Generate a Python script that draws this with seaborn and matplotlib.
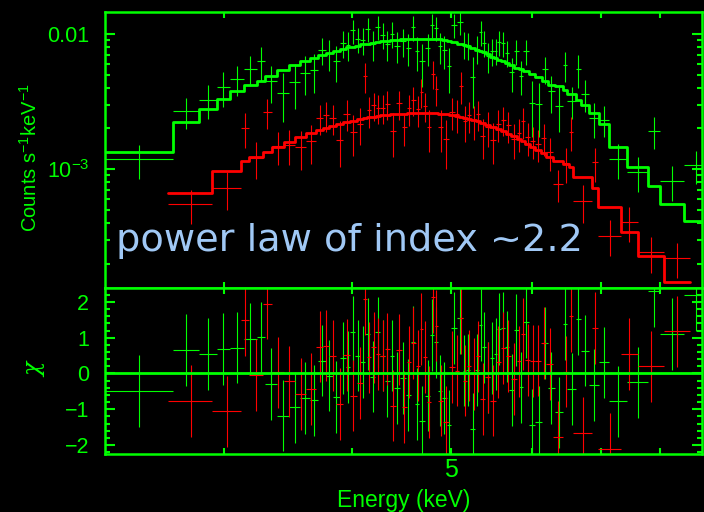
import numpy as np
import matplotlib
matplotlib.use('Agg')
import matplotlib.pyplot as plt
import seaborn as sns
from matplotlib.ticker import FixedLocator, FixedFormatter, NullFormatter, MultipleLocator

# ---- green spectrum (bin edges in keV, model / errors in 1e-3 counts/s/keV, residuals in sigma)
green_edges = [2.28, 2.671, 2.834, 2.949, 3.037, 3.137, 3.225, 3.286, 3.378, 3.471, 3.558, 3.635,
               3.705, 3.767, 3.829, 3.891, 3.942, 3.984, 4.025, 4.073, 4.119, 4.163, 4.215, 4.263,
               4.306, 4.352, 4.397, 4.451, 4.512, 4.563, 4.604, 4.654, 4.713, 4.768, 4.814, 4.850,
               4.894, 4.949, 5.002, 5.068, 5.130, 5.168, 5.219, 5.278, 5.326, 5.364, 5.404, 5.455,
               5.505, 5.549, 5.596, 5.647, 5.701, 5.761, 5.821, 5.883, 5.954, 6.045, 6.141, 6.221,
               6.312, 6.426, 6.493, 6.622, 6.697, 6.823, 6.970, 7.138, 7.433, 7.793, 8.002, 8.452, 8.90]
green_model = [1.343, 2.218, 2.769, 3.283, 3.802, 4.190, 4.486, 4.885, 5.412, 5.923, 6.328, 6.695,
               6.988, 7.293, 7.521, 7.782, 7.956, 8.080, 8.219, 8.403, 8.490, 8.606, 8.725, 8.830,
               8.891, 8.967, 9.044, 9.120, 9.183, 9.230, 9.246, 9.262, 9.262, 9.214, 9.167, 9.120,
               9.028, 8.907, 8.741, 8.389, 8.234, 8.122, 7.877, 7.626, 7.459, 7.305, 7.062, 6.791,
               6.607, 6.451, 6.278, 6.109, 5.903, 5.598, 5.467, 5.284, 5.080, 4.786, 4.463, 4.225,
               4.119, 3.848, 3.575, 3.245, 2.979, 2.612, 2.144, 1.463, 1.029, 0.752, 0.553, 0.412]
green_err = [0.332, 0.70, 0.92, 1.18, 1.16, 1.40, 1.77, 1.37, 1.46, 1.60, 1.65, 1.74,
             1.75, 1.82, 1.88, 1.95, 1.99, 2.18, 1.97, 2.02, 2.21, 2.07, 2.27, 2.12,
             2.13, 2.15, 2.08, 2.10, 2.11, 2.31, 2.13, 2.22, 2.13, 2.30, 2.29, 2.10,
             2.08, 2.14, 2.36, 2.52, 1.89, 1.87, 1.97, 1.83, 2.09, 1.83, 1.69, 1.70,
             1.65, 1.81, 1.76, 1.59, 1.48, 1.57, 1.37, 1.53, 1.37, 1.29, 1.25, 1.14,
             1.07, 1.48, 0.86, 1.48, 0.965, 0.69, 0.59, 0.348, 0.277, 0.508, 0.235, 0.300]
green_chi = [-0.49, 0.65, 0.54, 0.68, 0.72, 0.96, 1.01, -0.30, -1.18, -0.95, -0.69, -0.75,
             0.36, -0.06, -0.66, 0.43, 0.18, 1.17, 0.50, 0.32, 1.10, -0.09, 1.15, 0.50,
             -0.22, 0.50, -0.41, -0.13, -0.60, 0.88, -0.85, -1.34, -0.62, 1.08, 0.87, -0.48,
             -0.69, -1.45, 1.27, 1.55, 0.08, 0.10, -1.55, 0.10, 1.36, 0.73, -0.11, 0.43,
             0.55, 1.25, 1.27, 0.75, -0.46, 1.22, -0.39, 1.43, -1.44, -1.36, 0.85, -0.41,
             -1.09, 1.38, -0.44, 1.52, 0.64, -0.32, 0.31, -0.78, -0.25, 2.30, 1.11, 2.20]

# ---- red spectrum
red_edges = [2.643, 2.918, 3.111, 3.170, 3.269, 3.339, 3.428, 3.518, 3.606, 3.686, 3.747, 3.798,
             3.858, 3.920, 3.980, 4.041, 4.096, 4.137, 4.175, 4.220, 4.263, 4.304, 4.357, 4.417,
             4.472, 4.523, 4.569, 4.616, 4.656, 4.688, 4.731, 4.780, 4.817, 4.855, 4.910, 4.974,
             5.038, 5.090, 5.134, 5.182, 5.233, 5.286, 5.340, 5.397, 5.462, 5.527, 5.590, 5.653,
             5.722, 5.794, 5.854, 5.910, 5.973, 6.045, 6.120, 6.196, 6.294, 6.426, 6.523, 6.582,
             6.861, 6.963, 7.329, 7.610, 8.080, 8.561]
red_model = [0.6675, 0.9665, 1.147, 1.233, 1.343, 1.468, 1.599, 1.726, 1.849, 1.945, 2.030, 2.100,
             2.173, 2.229, 2.287, 2.347, 2.387, 2.416, 2.445, 2.470, 2.500, 2.525, 2.547, 2.569,
             2.582, 2.595, 2.600, 2.604, 2.609, 2.612, 2.609, 2.600, 2.591, 2.577, 2.556, 2.521,
             2.487, 2.453, 2.411, 2.362, 2.314, 2.256, 2.199, 2.133, 2.054, 1.986, 1.913, 1.836,
             1.756, 1.680, 1.613, 1.545, 1.470, 1.394, 1.318, 1.237, 1.156, 1.089, 1.029, 0.877,
             0.7194, 0.5231, 0.3432, 0.2279, 0.1463]
red_err = [0.155, 0.226, 0.59, 0.366, 0.66, 0.40, 0.43, 0.47, 0.52, 0.58, 0.61, 0.59,
           0.61, 0.67, 0.64, 0.66, 1.20, 0.70, 0.71, 0.69, 0.70, 0.73, 0.69, 0.75,
           0.57, 0.73, 0.78, 0.73, 0.91, 0.73, 0.70, 1.17, 0.98, 0.70, 0.66, 0.71,
           0.70, 1.10, 0.68, 0.66, 0.65, 0.65, 0.59, 0.60, 0.55, 0.58, 0.57, 0.55,
           0.49, 0.50, 0.58, 0.46, 0.44, 0.42, 0.45, 0.37, 0.21, 0.32, 0.54, 0.178,
           0.317, 0.0955, 0.118, 0.072, 0.0625]
red_chi = [-0.77, -1.06, 1.50, -0.04, 1.95, 0.03, -0.22, -0.58, -0.44, 0.75, 0.78, 0.50,
           -0.85, 0.52, -0.62, -0.27, 2.08, 0.45, 0.73, 0.54, 0.50, 0.69, -0.90, 0.67,
           -0.94, 0.32, 0.85, 0.22, 1.24, 0.46, -0.80, 2.14, 1.34, -0.76, -1.36, 0.18,
           0.08, 1.55, -0.20, 0.22, -0.01, 0.48, -0.72, -0.11, -0.76, 0.32, 0.71, 0.49,
           -0.15, 0.34, 1.11, 0.38, 0.35, 0.36, 0.85, 0.26, -1.78, 0.05, 1.60, -1.67,
           1.27, -2.10, 0.55, 0.20, 1.18]

GREEN = '#00ff00'
RED = '#ff0000'
LABEL_BLUE = '#a0c8f5'

sns.set_theme(style='dark', rc={'figure.facecolor': 'black', 'axes.facecolor': 'black',
                                'savefig.facecolor': 'black', 'axes.grid': False})
plt.rcParams['font.family'] = ['Liberation Sans', 'DejaVu Sans']
plt.rcParams['mathtext.fontset'] = 'custom'
plt.rcParams['mathtext.rm'] = 'Liberation Sans'
plt.rcParams['mathtext.it'] = 'Liberation Sans:italic'

fig = plt.figure(figsize=(7.04, 5.12), dpi=100)
ax1 = fig.add_axes([0.1496, 0.4375, 0.8471, 0.5396])
ax2 = fig.add_axes([0.1496, 0.1127, 0.8471, 0.3248])


def draw_spectrum(edges, model, err, chi, color):
    edges = np.array(edges)
    model = np.array(model) * 1e-3
    err = np.array(err) * 1e-3
    chi = np.array(chi)
    mid = (edges[:-1] + edges[1:]) / 2
    half = (edges[1:] - edges[:-1]) / 2
    data = model + chi * err
    ax1.errorbar(mid, data, xerr=half, yerr=err, fmt='none', ecolor=color,
                 elinewidth=0.8, capsize=0, zorder=2)
    sns.lineplot(x=edges, y=np.append(model, model[-1]), drawstyle='steps-post',
                 color=color, lw=2, estimator=None, sort=False, ax=ax1, zorder=3)
    ax2.errorbar(mid, chi, xerr=half, yerr=np.ones_like(chi), fmt='none', ecolor=color,
                 elinewidth=0.8, capsize=0, zorder=2)


draw_spectrum(green_edges, green_model, green_err, green_chi, GREEN)
draw_spectrum(red_edges, red_model, red_err, red_chi, RED)
ax2.axhline(0, color=GREEN, lw=2, zorder=4)

for ax in (ax1, ax2):
    ax.set_xscale('log')
    ax.set_xlim(2.294, 8.79)
    ax.xaxis.set_major_locator(FixedLocator([5]))
    ax.xaxis.set_minor_locator(FixedLocator([3, 4, 6, 7, 8]))
    ax.xaxis.set_minor_formatter(NullFormatter())
    ax.set_xlabel('')
    ax.set_ylabel('')
    for s in ax.spines.values():
        s.set_color(GREEN)
        s.set_linewidth(1.8)
    ax.tick_params(axis='x', which='both', direction='in', top=True, bottom=True,
                   length=4, width=1.5, color=GREEN, labelcolor=GREEN, labelsize=18, pad=3)
    ax.tick_params(axis='y', which='both', direction='in', left=True, right=True,
                   width=1.5, color=GREEN, labelcolor=GREEN, labelsize=15.5, pad=11.5)
    ax.tick_params(axis='y', which='major', length=7.5)
    ax.tick_params(axis='y', which='minor', length=3.8)

ax1.set_yscale('log')
ax1.set_ylim(1.32e-4, 1.463e-2)
ax1.yaxis.set_major_locator(FixedLocator([1e-3, 1e-2]))
ax1.yaxis.set_major_formatter(FixedFormatter([r'$10^{-3}$', '0.01']))
ax1.yaxis.set_minor_locator(FixedLocator([k * 1e-4 for k in range(2, 10)] + [k * 1e-3 for k in range(2, 10)]))
ax1.yaxis.set_minor_formatter(NullFormatter())
ax1.tick_params(axis='x', labelbottom=False)

ax2.set_ylim(-2.26, 2.39)
ax2.yaxis.set_major_locator(MultipleLocator(1))
ax2.yaxis.set_minor_locator(MultipleLocator(0.2))
ax2.xaxis.set_major_formatter(FixedFormatter(['5']))

ax1.text(0.018, 0.134, 'power law of index ~2.2', transform=ax1.transAxes, fontsize=27.5,
         color=LABEL_BLUE, family='DejaVu Sans', va='baseline', zorder=5)

fig.text(30 / 704, 1 - 158 / 512, r'Counts s$^{-1}$keV$^{-1}$', rotation=90, color=GREEN,
         fontsize=14.5, ha='center', va='center')
fig.text(35 / 704, 1 - 370 / 512, '\u03c7', rotation=90, color=GREEN, fontsize=17,
         family='DejaVu Serif', style='italic', ha='center', va='center')
fig.text(403.5 / 704, 1 - 500 / 512, 'Energy (keV)', color=GREEN, fontsize=16.5,
         ha='center', va='center')

plt.savefig('out.png', dpi=100, facecolor='black')
